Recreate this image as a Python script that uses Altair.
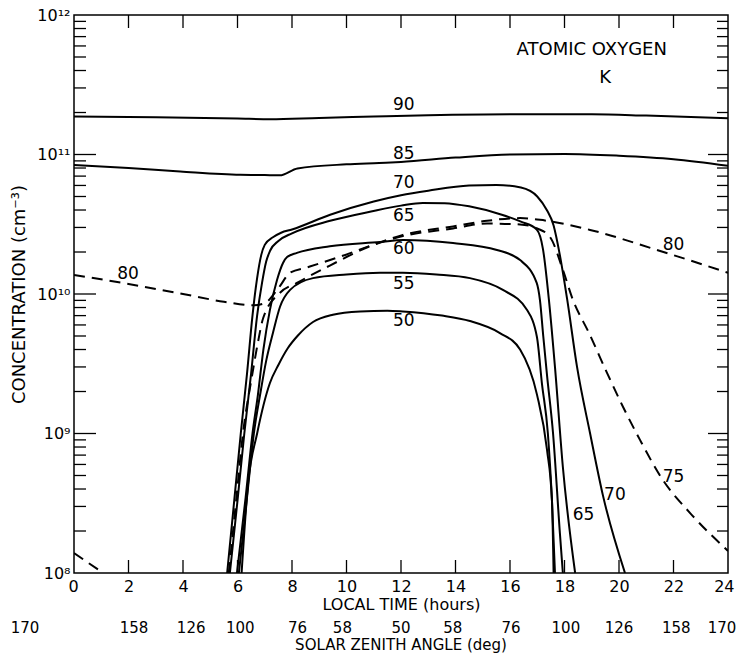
import altair as alt
import pandas as pd

# ---------------- data ----------------
# solid curves (altitude in km) : local time (h) / concentration (cm^-3)
T90 = [0, 3, 6, 7.2, 9, 11, 13, 16, 19, 21, 24]
C90 = [1.87e11, 1.85e11, 1.81e11, 1.79e11, 1.83e11, 1.87e11, 1.91e11, 1.94e11, 1.94e11, 1.90e11, 1.82e11]

T85 = [0, 2, 3.9, 6.1, 7.0, 7.55, 8.2, 10, 11.2, 12, 14, 16, 18, 20, 22, 24]
C85 = [8.4e10, 8.0e10, 7.55e10, 7.15e10, 7.12e10, 7.1e10, 7.95e10, 8.5e10, 8.7e10, 8.85e10,
       9.5e10, 1.0e11, 1.01e11, 9.8e10, 9.25e10, 8.3e10]

T70 = [5.62, 5.88, 6.12, 6.35, 6.55, 6.72, 6.87, 7.0, 7.3, 7.6, 8.0, 9.4, 11.0, 12.0, 13.0, 14.5,
       15.5, 16.4, 17.0, 17.35, 17.6, 17.83, 18.1, 18.46, 18.94, 19.41, 20.22]
C70 = [1e8, 3.3e8, 1.0e9, 2.7e9, 7e9, 1.3e10, 1.9e10, 2.25e10, 2.55e10, 2.75e10, 2.9e10, 3.7e10,
       4.6e10, 5.1e10, 5.5e10, 6.0e10, 6.05e10, 5.8e10, 5.0e10, 4.0e10, 3.1e10, 1.9e10, 9.1e9,
       3.0e9, 1.0e9, 3.6e8, 1e8]

T65 = [5.72, 6.0, 6.25, 6.5, 6.72, 6.9, 7.05, 7.2, 7.5, 8.0, 9.4, 10.9, 12.0, 12.8, 13.6, 14.5,
       15.7, 16.4, 16.98, 17.21, 17.43, 17.65, 17.94, 18.39]
C65 = [1e8, 3.3e8, 1.0e9, 2.7e9, 7e9, 1.2e10, 1.7e10, 2.05e10, 2.4e10, 2.72e10, 3.35e10, 3.9e10,
       4.3e10, 4.5e10, 4.48e10, 4.25e10, 3.7e10, 3.3e10, 2.9e10, 2.1e10, 9e9, 3.0e9, 5.75e8, 1e8]

T60 = [5.98, 6.3, 6.55, 6.75, 6.95, 7.19, 7.45, 7.67, 7.82, 8.18, 9.39, 11.23, 12.07, 13.91, 15.52,
       16.37, 16.98, 17.1, 17.22, 17.36, 17.58, 17.83, 17.94]
C60 = [1e8, 3.5e8, 1.0e9, 1.9e9, 4e9, 7.7e9, 1.26e10, 1.67e10, 1.84e10, 1.97e10, 2.2e10, 2.36e10,
       2.44e10, 2.32e10, 2.07e10, 1.75e10, 1.2e10, 9.0e9, 5.0e9, 2.6e9, 1.0e9, 1.94e8, 1e8]

T55 = [6.05, 6.35, 6.6, 6.85, 7.05, 7.3, 7.56, 7.93, 8.77, 10.0, 11.23, 12.07, 13.3, 14.53, 15.74,
       16.62, 16.99, 17.17, 17.39, 17.54, 17.65]
C55 = [1e8, 3.5e8, 1.0e9, 2.0e9, 3.3e9, 5.25e9, 8.1e9, 1.07e10, 1.3e10, 1.38e10, 1.42e10, 1.42e10,
       1.38e10, 1.3e10, 1.07e10, 7.7e9, 4.9e9, 2.3e9, 1.0e9, 3.3e8, 1e8]

T50 = [6.15, 6.39, 6.72, 7.19, 7.5, 7.85, 8.2, 8.77, 9.5, 10.5, 11.5, 12.07, 13.5, 14.53, 15.63,
       16.37, 16.99, 17.36, 17.54, 17.6]
C50 = [1e8, 4.4e8, 1.0e9, 2.3e9, 3.1e9, 4.1e9, 5.0e9, 6.3e9, 7.1e9, 7.5e9, 7.6e9, 7.5e9, 7.0e9,
       6.4e9, 5.25e9, 4.0e9, 1.9e9, 7.6e8, 3.3e8, 1e8]

# dashed curves
T75_NIGHT = [0, 1.07]
C75_NIGHT = [1.39e8, 1e8]
T75 = [5.68, 5.95, 6.2, 6.52, 6.75, 6.94, 7.56, 8.18, 9.39, 10.86, 12.07, 13.91, 15.16, 16.37,
       17.0, 17.47, 17.94, 18.31, 18.9, 19.56, 20.15, 20.77, 21.61, 22.61, 24]
C75 = [1e8, 3.3e8, 1.0e9, 2.5e9, 4.5e9, 6.7e9, 1.02e10, 1.2e10, 1.6e10, 2.2e10, 2.6e10, 2.95e10,
       3.2e10, 3.15e10, 2.95e10, 2.56e10, 1.49e10, 9.06e9, 5.25e9, 2.72e9, 1.55e9, 9.0e8, 4.64e8,
       2.69e8, 1.44e8]

T80 = [0, 2, 4, 5.5, 6.57, 7.0, 7.5, 7.93, 8.55, 9.76, 10.97, 12.07, 13.91, 15.16, 16.37, 17.1,
       18.94, 21.39, 24]
C80 = [1.37e10, 1.18e10, 1.0e10, 8.8e9, 8.3e9, 8.6e9, 1.1e10, 1.42e10, 1.55e10, 1.85e10, 2.25e10,
       2.65e10, 3.05e10, 3.35e10, 3.5e10, 3.4e10, 2.88e10, 2.07e10, 1.42e10]

# curve labels
LAB_TEXT = ["90", "85", "70", "65", "60", "55", "50", "80", "80", "75", "70", "65"]
LAB_T = [12.1, 12.1, 12.1, 12.1, 12.1, 12.1, 12.1, 1.98, 22.0, 22.0, 19.85, 18.7]
LAB_C = [2.26e11, 1.01e11, 6.25e10, 3.62e10, 2.1e10, 1.18e10, 6.4e9, 1.39e10, 2.25e10, 4.87e8,
         3.6e8, 2.6e8]

# panel annotation
NOTE_TEXT = ["ATOMIC OXYGEN", "K"]
NOTE_T = [19.0, 19.49]
NOTE_C = [5.6e11, 3.54e11]

# axes
HOUR_TICKS = list(range(0, 25, 2))
ZENITH_T = [-1.8, 2.2, 4.3, 6.1, 8.2, 9.85, 12.0, 13.9, 16.04, 18.05, 20.0, 22.1, 23.78]
ZENITH_LABELS = ["170", "158", "126", "100", "76", "58", "50", "58", "76", "100", "126", "158", "170"]
Y_DECADES = [1e8, 1e9, 1e10, 1e11, 1e12]
Y_MAJOR_TICKS = [1e9, 1e10, 1e11]
Y_MINOR_TICKS = [k * 10.0 ** n for n in range(8, 12) for k in range(2, 10)]
X_INNER_TICKS = list(range(2, 23, 2))

# ---------------- build ----------------
def frame(name, ts, cs):
    return pd.DataFrame({"seg": name, "t": ts, "c": cs})

solid_df = pd.concat([frame("90", T90, C90), frame("85", T85, C85), frame("70", T70, C70),
                      frame("65", T65, C65), frame("60", T60, C60), frame("55", T55, C55),
                      frame("50", T50, C50)], ignore_index=True)
dashed_df = pd.concat([frame("75n", T75_NIGHT, C75_NIGHT), frame("75", T75, C75),
                       frame("80", T80, C80)], ignore_index=True)

W, H = 654, 558
FONT = "DejaVu Sans"
xs = alt.Scale(domain=[0, 24], nice=False, zero=False)
ys = alt.Scale(type="log", domain=[1e8, 1e12], nice=False)

x_axis = alt.Axis(orient="bottom", values=HOUR_TICKS, tickSize=0, domain=False, grid=False,
                  labelFlush=True, labelFlushOffset=6, labelOverlap=False, labelFontSize=16,
                  labelFont=FONT, labelColor="black", labelPadding=5,
                  title="LOCAL TIME (hours)", titleFont=FONT,
                  titleFontSize=16, titleFontWeight="normal", titleColor="black", titleY=31,
                  titleBaseline="middle")
y_axis = alt.Axis(orient="left", values=Y_DECADES, tickSize=0, domain=False, grid=False,
                  labelFlush=False, labelOverlap=False, labelFontSize=16, labelFont=FONT,
                  labelColor="black", labelPadding=4,
                  labelExpr="datum.value < 5e8 ? '10⁸' : datum.value < 5e9 ? '10⁹' : "
                            "datum.value < 5e10 ? '10¹⁰' : datum.value < 5e11 ? '10¹¹' : '10¹²'",
                  title="CONCENTRATION  (cm⁻³)", titleFont=FONT, titleFontSize=18,
                  titleFontWeight="normal", titleColor="black", titleX=-55, titleY=H / 2,
                  titleBaseline="middle")

X_ENC = alt.X("t:Q", scale=xs, axis=x_axis)
Y_ENC = alt.Y("c:Q", scale=ys, axis=y_axis)

solid = alt.Chart(solid_df).mark_line(color="black", strokeWidth=2, interpolate="monotone",
                                      clip=True).encode(x=X_ENC, y=Y_ENC, detail="seg:N")
dashed = alt.Chart(dashed_df).mark_line(color="black", strokeWidth=2, interpolate="monotone",
                                        strokeDash=[11, 7], clip=True).encode(
    x=X_ENC, y=Y_ENC, detail="seg:N")


def ytick(vals, x0, x1):
    return alt.Chart(pd.DataFrame({"c": vals})).mark_rule(color="black", strokeWidth=1.3).encode(
        y=Y_ENC, x=alt.value(x0), x2=alt.value(x1))


def xtick(vals, y0, y1):
    return alt.Chart(pd.DataFrame({"t": vals})).mark_rule(color="black", strokeWidth=1.3).encode(
        x=X_ENC, y=alt.value(y0), y2=alt.value(y1))


ticks = [ytick(Y_MINOR_TICKS, 0, 12), ytick(Y_MAJOR_TICKS, 0, 22),
         ytick(Y_MINOR_TICKS, W - 11, W), ytick(Y_MAJOR_TICKS, W - 20, W),
         xtick(X_INNER_TICKS, 0, 13), xtick(X_INNER_TICKS, H - 13, H)]

labels = alt.Chart(pd.DataFrame({"t": LAB_T, "c": LAB_C, "s": LAB_TEXT})).mark_text(
    font=FONT, fontSize=17, color="black", baseline="middle", align="center").encode(
    x=X_ENC, y=Y_ENC, text="s:N")

notes = alt.Chart(pd.DataFrame({"t": NOTE_T, "c": NOTE_C, "s": NOTE_TEXT})).mark_text(
    font=FONT, fontSize=18, color="black", baseline="middle", align="center").encode(
    x=X_ENC, y=Y_ENC, text="s:N")

zenith = alt.Chart(pd.DataFrame({"t": ZENITH_T, "s": ZENITH_LABELS})).mark_text(
    font=FONT, fontSize=15, color="black", baseline="middle", align="center").encode(
    x=X_ENC, y=alt.value(H + 55), text="s:N")

zenith_title = alt.Chart(pd.DataFrame({"s": ["SOLAR ZENITH ANGLE (deg)"]})).mark_text(
    font=FONT, fontSize=15, color="black", baseline="middle", align="center").encode(
    x=alt.value(W / 2), y=alt.value(H + 72), text="s:N")

chart = alt.layer(solid, dashed, *ticks, labels, notes, zenith, zenith_title).properties(
    width=W, height=H,
    autosize=alt.AutoSizeParams(type="none"),
    padding={"left": 66, "top": 7, "right": 8, "bottom": 81},
    background="white",
).configure_view(stroke="black", strokeWidth=1.5)

chart.save("out.html", embed_options={"renderer": "svg", "actions": False})
